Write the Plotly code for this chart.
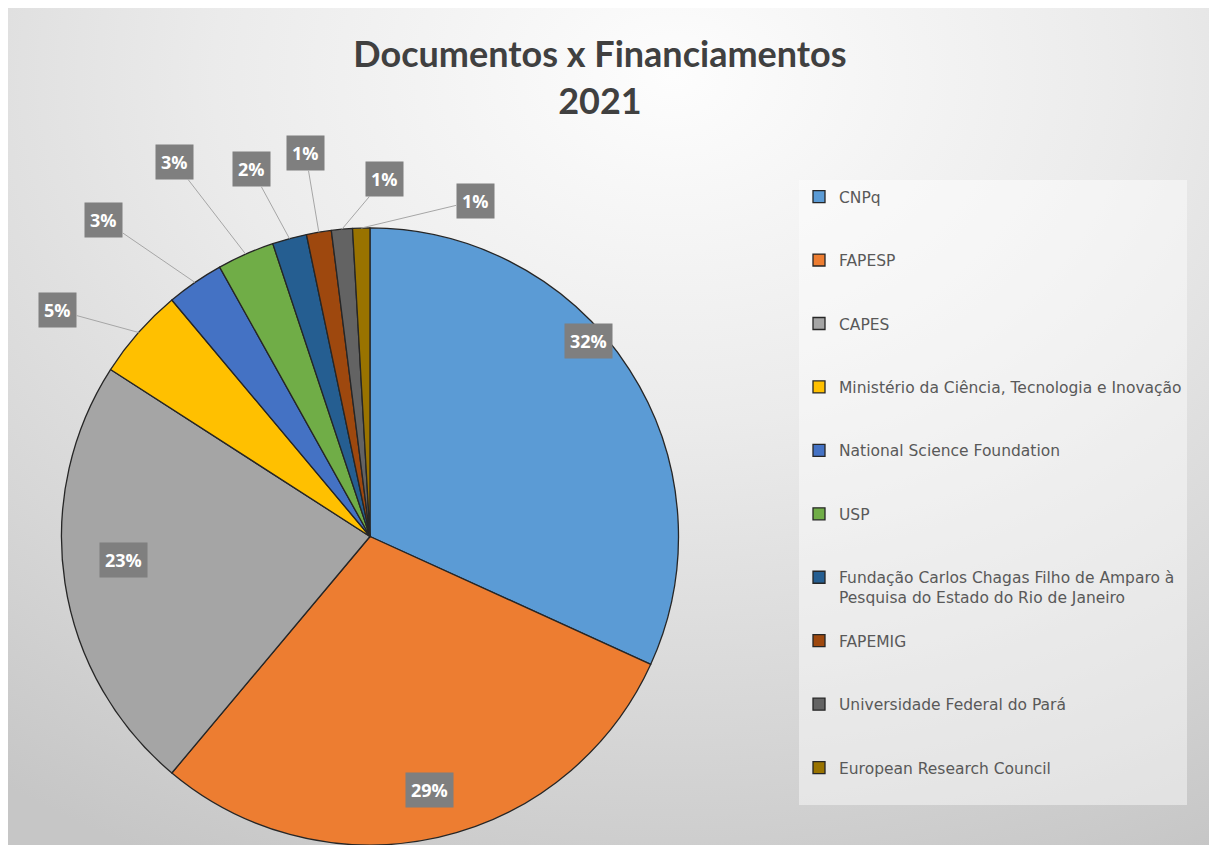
import base64
import math

import plotly.graph_objects as go

# --------- data ---------
funders = [
    "CNPq",
    "FAPESP",
    "CAPES",
    "Ministério da Ciência, Tecnologia e Inovação",
    "National Science Foundation",
    "USP",
    "Fundação Carlos Chagas Filho de Amparo à<br>Pesquisa do Estado do Rio de Janeiro",
    "FAPEMIG",
    "Universidade Federal do Pará",
    "European Research Council",
]
shares = [31.8, 29.3, 23.0, 4.8, 3.0, 3.0, 1.8, 1.3, 1.1, 0.9]
colors = [
    "#5B9BD5", "#ED7D31", "#A5A5A5", "#FFC000", "#4472C4",
    "#70AD47", "#255E91", "#9E480E", "#636363", "#997300",
]

# the page body adds an 8px margin, so the figure is 8px smaller than the window
OFF = 8
W, H = 1209, 837
dom_x = [0.0434, 0.5554]
dom_y = [0.0, 0.7372]

# label placement: (inside?, radius factor, angle nudge in degrees)
label_place = [
    (True, 0.95, -9.0),
    (True, 0.90, 0.5),
    (True, 0.89, 0.0),
    (False, 1.25, -5.5),
    (False, 1.34, -5.5),
    (False, 1.37, -3.8),
    (False, 1.25, -2.7),
    (False, 1.26, 0.0),
    (False, 1.16, 7.5),
    (False, 1.14, 19.0),
]

# pad legend entries so they are spaced like the Excel legend
legend_labels = []
for i, f in enumerate(funders):
    n = f.count("<br>") + 1
    pad = 3 - n if i < len(funders) - 1 else 2 - n
    legend_labels.append(f + "<br>&nbsp;" * pad)

fig = go.Figure(
    go.Pie(
        labels=legend_labels,
        values=shares,
        sort=False,
        direction="clockwise",
        rotation=0,
        textinfo="none",
        hoverinfo="label+percent",
        marker=dict(colors=colors, line=dict(color="#262626", width=1.3)),
        domain=dict(x=dom_x, y=dom_y),
    )
)

# pie geometry in figure pixels (plotly: radius = half the smaller domain side)
dw = (dom_x[1] - dom_x[0]) * W
dh = (dom_y[1] - dom_y[0]) * H
R = min(dw, dh) / 2
cx = (dom_x[0] + dom_x[1]) / 2 * W
cy = (1 - (dom_y[0] + dom_y[1]) / 2) * H


def to_paper(px, py):
    return px / W, 1 - py / H


label_font = dict(family="Open Sans", size=18, color="white")
total = sum(shares)
cum = 0.0
for val, (inside, rf, nudge) in zip(shares, label_place):
    mid = (cum + val / 2) / total * 360
    cum += val
    txt = f"<b>{round(val / total * 100)}%</b>"
    a = math.radians(mid + nudge)
    lx = cx + rf * R * math.sin(a)
    ly = cy - rf * R * math.cos(a)
    if inside:
        x, y = to_paper(lx, ly)
        fig.add_annotation(
            x=x, y=y, xref="paper", yref="paper", text=txt, showarrow=False,
            bgcolor="#7f7f7f", borderpad=5, font=label_font,
        )
    else:
        am = math.radians(mid)
        ex = cx + R * math.sin(am)
        ey = cy - R * math.cos(am)
        x, y = to_paper(ex, ey)
        fig.add_annotation(
            x=x, y=y, xref="paper", yref="paper", text=txt,
            showarrow=True, arrowhead=0, arrowwidth=1, arrowcolor="#a6a6a6",
            ax=lx - ex, ay=ly - ey,
            bgcolor="#7f7f7f", borderpad=5, font=label_font,
        )

# soft radial grey background like the Excel chart area
svg = """<svg xmlns='http://www.w3.org/2000/svg' width='1209' height='837' preserveAspectRatio='none'>
<defs><radialGradient id='g' cx='0.55' cy='0.08' r='0.95' gradientTransform='translate(0.55 0.08) scale(1 1.1) translate(-0.55 -0.08)'>
<stop offset='0' stop-color='#fdfdfd'/><stop offset='0.4' stop-color='#ebebeb'/>
<stop offset='0.75' stop-color='#d6d6d6'/><stop offset='1' stop-color='#c6c6c6'/>
</radialGradient></defs><rect width='1209' height='837' fill='url(#g)'/></svg>"""
bg_src = "data:image/svg+xml;base64," + base64.b64encode(svg.encode()).decode()

fig.update_layout(
    width=W,
    height=H,
    margin=dict(l=0, r=0, t=0, b=0),
    paper_bgcolor="white",
    images=[dict(
        source=bg_src, xref="paper", yref="paper", x=0, y=1,
        sizex=1, sizey=1, xanchor="left", yanchor="top",
        sizing="stretch", layer="below",
    )],
    title=dict(
        text="<b>Documentos x Financiamentos</b><br><b>2021</b>",
        x=592 / W, xanchor="center", y=1 - 59 / H, yanchor="top",
        font=dict(family="Lato", size=36, color="#404040"),
    ),
    legend=dict(
        x=(799 - OFF) / W, y=1 - (180 - OFF) / H, xanchor="left", yanchor="top",
        bgcolor="rgba(255,255,255,0.45)", valign="top",
        font=dict(family="DejaVu Sans", size=15.5, color="#595959"),
    ),
)

fig.write_html("out.html")
